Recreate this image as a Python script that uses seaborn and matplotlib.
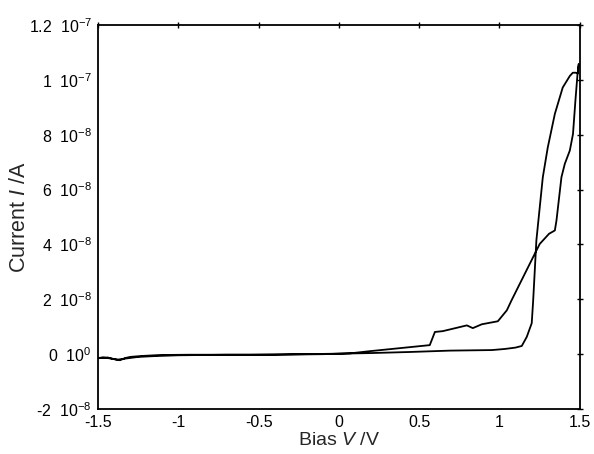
import numpy as np
import pandas as pd
import matplotlib
matplotlib.use("Agg")
import matplotlib.pyplot as plt
import seaborn as sns

# Forward sweep (-1.5 V -> 1.5 V)
v_forward = [-1.500, -1.475, -1.440, -1.400, -1.363, -1.330, -1.300, -1.260, -1.210,
             -1.114, -0.930, -0.750, -0.554, -0.400, -0.243, -0.100, 0.006, 0.193,
             0.442, 0.691, 0.952, 1.033, 1.100, 1.139, 1.170, 1.201, 1.210, 1.230,
             1.251, 1.270, 1.301, 1.345, 1.394, 1.438, 1.457, 1.475, 1.488, 1.494]
i_forward = [-1.5e-9, -1.3e-9, -1.2e-9, -1.8e-9, -2.2e-9, -1.4e-9, -1.0e-9, -0.8e-9, -0.6e-9,
             -0.3e-9, -0.2e-9, -0.2e-9, -0.2e-9, -0.1e-9, 0.0, 0.1e-9, 0.2e-9, 0.4e-9,
             0.8e-9, 1.3e-9, 1.5e-9, 1.9e-9, 2.4e-9, 3.0e-9, 6.3e-9, 1.13e-8, 1.96e-8, 4.15e-8,
             5.36e-8, 6.45e-8, 7.54e-8, 8.76e-8, 9.72e-8, 1.014e-7, 1.026e-7, 1.026e-7, 1.023e-7, 1.058e-7]

# Reverse sweep (1.5 V -> -1.5 V)
v_reverse = [1.486, 1.473, 1.458, 1.448, 1.438, 1.407, 1.386, 1.355, 1.345, 1.309,
             1.251, 1.220, 1.075, 1.046, 0.990, 0.890, 0.834, 0.797, 0.647, 0.598,
             0.566, 0.380, 0.193, 0.070, -0.100, -0.400, -0.700, -1.000, -1.150,
             -1.250, -1.330, -1.380, -1.430, -1.470, -1.500]
i_reverse = [1.02e-7, 9.24e-8, 8.03e-8, 7.72e-8, 7.42e-8, 6.94e-8, 6.45e-8, 4.87e-8, 4.51e-8, 4.39e-8,
             4.02e-8, 3.66e-8, 1.96e-8, 1.6e-8, 1.2e-8, 1.09e-8, 9.5e-9, 1.05e-8, 8.4e-9, 8.1e-9,
             3.3e-9, 2.2e-9, 1.1e-9, 0.3e-9, 0.0, -0.2e-9, -0.2e-9, -0.4e-9, -0.7e-9,
             -1.0e-9, -1.6e-9, -2.0e-9, -1.5e-9, -1.2e-9, -1.4e-9]

x_ticks = [-1.5, -1, -0.5, 0, 0.5, 1, 1.5]
x_ticklabels = ["-1.5", "-1", "-0.5", "0", "0.5", "1", "1.5"]
y_ticks = [-2e-8, 0, 2e-8, 4e-8, 6e-8, 8e-8, 1e-7, 1.2e-7]
y_ticklabels = ["-2  10$^{-8}$", "0  10$^{0}$", "2  10$^{-8}$", "4  10$^{-8}$",
                "6  10$^{-8}$", "8  10$^{-8}$", "1  10$^{-7}$", "1.2  10$^{-7}$"]

v_all = v_forward + v_reverse
i_all = i_forward + i_reverse
df = pd.DataFrame({"order": np.arange(len(v_all)), "Bias": v_all, "Current": i_all})

sns.set_theme(style="white")
plt.rcParams["font.family"] = ["Liberation Sans", "DejaVu Sans"]
plt.rcParams["mathtext.fontset"] = "custom"
plt.rcParams["mathtext.rm"] = "Liberation Sans"
plt.rcParams["mathtext.it"] = "Liberation Sans:italic"
plt.rcParams["mathtext.default"] = "regular"

fig = plt.figure(figsize=(5.94, 4.54), dpi=100)
ax = fig.add_axes([0.165, 0.099, 0.811, 0.846])

sns.lineplot(data=df, x="Bias", y="Current", sort=False, estimator=None,
             color="black", linewidth=1.3, ax=ax)

ax.set_xlim(-1.5, 1.5)
ax.set_ylim(-2e-8, 1.2e-7)
ax.set_xticks(x_ticks)
ax.set_xticklabels(x_ticklabels, fontsize=11.5)
ax.set_yticks(y_ticks)
ax.set_yticklabels(y_ticklabels, fontsize=11.5)
ax.tick_params(axis="both", which="both", direction="inout", length=5, width=1,
               colors="black", top=True, right=True, pad=2)
ax.tick_params(labeltop=False, labelright=False)
for s in ax.spines.values():
    s.set_color("black")
    s.set_linewidth(1.3)

ax.set_xlabel(r"Bias $\mathit{V}$ /V", fontsize=14, labelpad=1)
ax.set_ylabel(r"Current $\mathit{I}$ /A", fontsize=15.5)
ax.yaxis.set_label_coords(-0.142, 0.5)

fig.savefig("out.png", dpi=100)
